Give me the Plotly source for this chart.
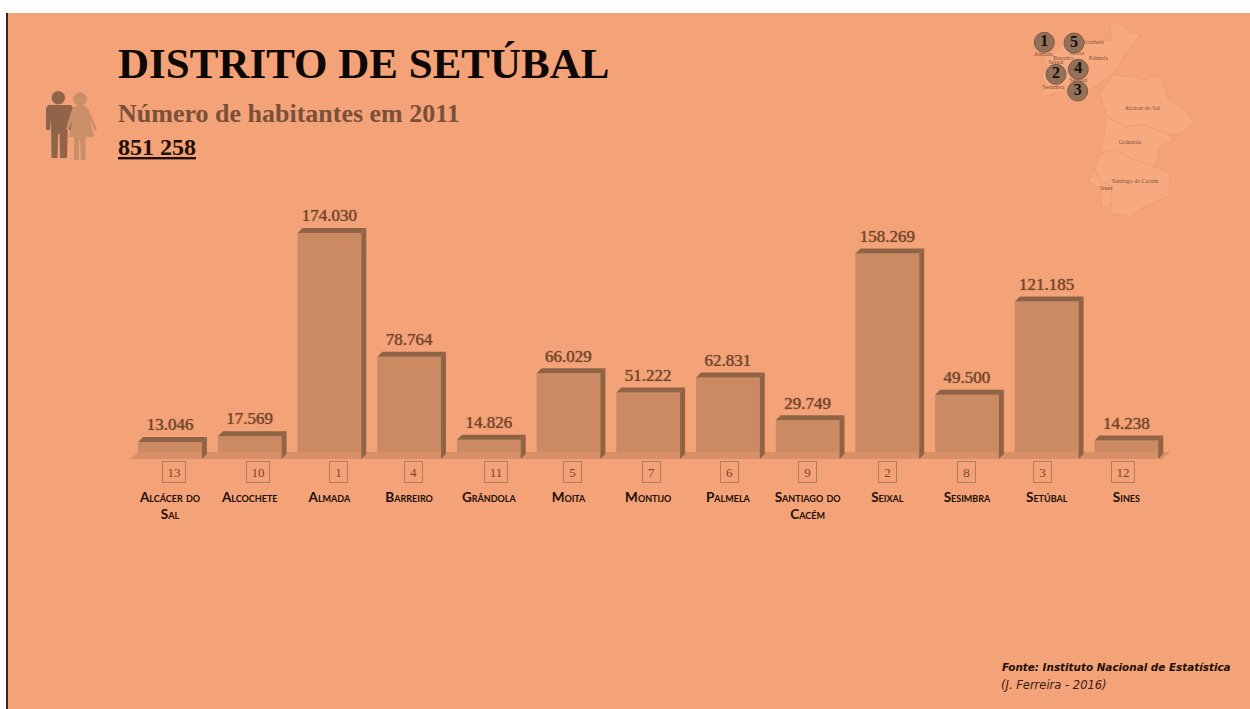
import plotly.graph_objects as go

# Resident population per municipality, census 2011
municipios = ["Alcácer do<br>Sal", "Alcochete", "Almada", "Barreiro", "Grândola", "Moita", "Montijo",
              "Palmela", "Santiago do<br>Cacém", "Seixal", "Sesimbra", "Setúbal", "Sines"]
habitantes = [13046, 17569, 174030, 78764, 14826, 66029, 51222, 62831, 29749, 158269, 49500, 121185, 14238]
posicao = [13, 10, 1, 4, 11, 5, 7, 6, 9, 2, 8, 3, 12]
# The rank boxes drift slightly off the bar centres
posicao_desvio = [4, 8, 9, 4, 7, 3.5, 3, 2, -0.5, 0, 0, -4, -3]

FUNDO = "#F4A277"
FRENTE = "#CC8A63"
SOMBRA = "#8F6446"
PISO = "#D98F68"
TEXTO = "#74472E"
SERIF = "Liberation Serif"

BAR_W = 0.8
DX = 0.0627   # depth of the extruded bars along x
DY = 3850     # depth of the extruded bars along y
idx = list(range(len(habitantes)))

# Map of the district: outlines on a local grid, placed in the top-right corner
mapa_norte = [(110, 95), (125, 130), (140, 170), (125, 195), (135, 230), (120, 262), (170, 250), (200, 240),
              (260, 245), (300, 220), (330, 195), (355, 175), (375, 130), (420, 75), (385, 65), (355, 35),
              (330, 40), (335, 90), (280, 95), (245, 90), (190, 105), (160, 125)]
mapa_alcacer = [(300, 250), (340, 195), (400, 200), (430, 210), (480, 195), (505, 270), (560, 300), (580, 340),
                (540, 375), (500, 370), (430, 345), (380, 350), (320, 320)]
mapa_grandola = [(320, 320), (380, 350), (430, 345), (500, 370), (520, 390), (480, 410), (465, 470), (400, 450),
                 (350, 420), (300, 430), (310, 380)]
mapa_santiago = [(300, 430), (350, 420), (400, 450), (465, 470), (510, 490), (505, 560), (430, 590), (390, 620),
                 (335, 610), (330, 560), (335, 530), (300, 510), (285, 480)]
mapa_sines = [(285, 480), (300, 510), (335, 530), (330, 590), (305, 590), (300, 540), (265, 510)]
mapa_partes = [mapa_norte, mapa_alcacer, mapa_grandola, mapa_santiago, mapa_sines]

mapa_nomes = ["Almada", "Seixal", "Barreiro", "Moita", "Alcochete", "Palmela", "Sesimbra", "Setúbal",
              "Alcácer do Sal", "Grândola", "Santiago do Cacém", "Sines"]
mapa_nomes_x = [130, 168, 190, 230, 275, 295, 160, 235, 427, 390, 405, 318]
mapa_nomes_y = [132, 158, 144, 130, 98, 146, 232, 210, 294, 397, 515, 536]

top5_rotulos = [1, 5, 2, 4, 3]
top5_x = [133, 222, 168, 235, 233]
top5_y = [97, 99, 193, 178, 243]


def mapa_x(a):
    return 1000 + a / 3


def mapa_y(b):
    return 10 + b / 3


fig = go.Figure()

# Floor under the bars
fig.add_trace(go.Scatter(
    x=[-0.5, 12.45, 12.45 + 0.1, -0.5 + 0.1, -0.5], y=[0, 0, 5400, 5400, 0],
    mode="lines", fill="toself", fillcolor=PISO, line=dict(width=0), hoverinfo="skip", showlegend=False))

# Front faces
fig.add_trace(go.Bar(x=idx, y=habitantes, width=BAR_W, marker=dict(color=FRENTE, line=dict(width=0)),
                     hoverinfo="skip", showlegend=False))

# Top and side faces, derived from each bar's value
top_x, top_y, side_x, side_y = [], [], [], []
for i, v in zip(idx, habitantes):
    l, r = i - BAR_W / 2, i + BAR_W / 2
    top_x += [l, r, r + DX, l + DX, l, None]
    top_y += [v, v, v + DY, v + DY, v, None]
    side_x += [r, r + DX, r + DX, r, r, None]
    side_y += [0, DY, v + DY, v, 0, None]
for fx, fy in ((top_x, top_y), (side_x, side_y)):
    fig.add_trace(go.Scatter(x=fx, y=fy, mode="lines", fill="toself", fillcolor=SOMBRA, line=dict(width=0),
                             hoverinfo="skip", showlegend=False))

# Value labels above the bars
fig.add_trace(go.Scatter(
    x=idx, y=[v + DY + 1900 for v in habitantes], mode="text",
    text=[f"{v:,}".replace(",", ".") for v in habitantes], textposition="top center",
    textfont=dict(family=SERIF, size=17, color=TEXTO, shadow="0 0 1px #74472E"),
    hoverinfo="skip", showlegend=False, cliponaxis=False))

# Small ticks under the rank boxes
fig.add_trace(go.Scatter(
    x=[i * 0.985 - 0.376 for i in idx[:-1]], y=[-19250] * (len(idx) - 1), mode="markers",
    marker=dict(symbol="line-ns", size=6, line=dict(width=1, color="#C98A64")),
    hoverinfo="skip", showlegend=False, cliponaxis=False))

# District map
for parte in mapa_partes:
    xs = [mapa_x(p[0]) for p in parte] + [mapa_x(parte[0][0])]
    ys = [mapa_y(p[1]) for p in parte] + [mapa_y(parte[0][1])]
    fig.add_trace(go.Scatter(x=xs, y=ys, xaxis="x2", yaxis="y2", mode="lines", fill="toself", fillcolor="#F7AA7F",
                             line=dict(width=1, color="#EF9E74"), hoverinfo="skip", showlegend=False))
fig.add_trace(go.Scatter(
    x=[mapa_x(a) for a in mapa_nomes_x], y=[mapa_y(b) for b in mapa_nomes_y], xaxis="x2", yaxis="y2",
    mode="text", text=mapa_nomes, textfont=dict(family=SERIF, size=6, color="#7F4F37"),
    hoverinfo="skip", showlegend=False))
fig.add_trace(go.Scatter(
    x=[mapa_x(a) for a in top5_x], y=[mapa_y(b) for b in top5_y], xaxis="x2", yaxis="y2",
    mode="markers+text", text=[str(n) for n in top5_rotulos], textposition="middle center",
    marker=dict(size=20, color="#93705A", line=dict(width=1, color="#7D5A45")),
    textfont=dict(family=SERIF, size=16, color="#17100C", weight="bold"),
    hoverinfo="skip", showlegend=False))

# Man and woman pictogram
fig.add_trace(go.Scatter(
    x=[46, 48, 71, 73, 73, 69, 68, 67, 60, 59.5, 58, 57.5, 51.5, 51, 50, 46, 46],
    y=[108, 105, 105, 108, 130, 130, 118, 158, 158, 134, 134, 158, 158, 118, 130, 130, 108],
    xaxis="x2", yaxis="y2", mode="lines", fill="toself", fillcolor="#8F6448", line=dict(width=0),
    hoverinfo="skip", showlegend=False))
fig.add_trace(go.Scatter(
    x=[75, 85, 88, 97, 95, 90, 94, 85.5, 85.5, 81, 80, 79, 79, 74, 74, 69, 72, 68, 66, 72, 75],
    y=[106, 106, 109, 129, 131, 119, 137, 137, 160, 160, 140, 140, 160, 160, 137, 137, 122, 131, 129, 109, 106],
    xaxis="x2", yaxis="y2", mode="lines", fill="toself", fillcolor="#C98F69", line=dict(width=0),
    hoverinfo="skip", showlegend=False))
fig.add_trace(go.Scatter(
    x=[58.3, 80], y=[97.7, 99.3], xaxis="x2", yaxis="y2", mode="markers",
    marker=dict(size=13.5, color=["#8F6448", "#C98F69"], line=dict(width=0)),
    hoverinfo="skip", showlegend=False))

# Title block and source note
annotations = [
    dict(text="<b>DISTRITO DE SETÚBAL</b>", x=116, y=63,
         font=dict(family=SERIF, size=43, color="#0E0805")),
    dict(text="<b>Número de habitantes em 2011</b>", x=116, y=113,
         font=dict(family=SERIF, size=26, color="#7A5038")),
    dict(text="<b><u>851 258</u></b>", x=116, y=147,
         font=dict(family=SERIF, size=24, color="#1E0F08")),
    dict(text="<b><i>Fonte: Instituto Nacional de Estatística</i></b>", x=1000, y=667,
         font=dict(family="DejaVu Sans", size=10.4, color="#1E0F08")),
    dict(text="<i>(J. Ferreira - 2016)</i>", x=999, y=685,
         font=dict(family="DejaVu Sans", size=11.5, color="#3A2014")),
]
for a in annotations:
    a.update(xref="x2", yref="y2", xanchor="left", yanchor="middle", showarrow=False)

# Rank boxes hanging below the baseline
for i, p, d in zip(idx, posicao, posicao_desvio):
    annotations.append(dict(
        text=str(p), x=i, y=0, xref="x", yref="y", xshift=d, yshift=-13, xanchor="center", yanchor="middle",
        width=15 if p < 10 else 20, height=18, align="center", valign="middle",
        showarrow=False, bordercolor="#B37C5A", borderwidth=1, borderpad=1,
        font=dict(family=SERIF, size=13, color=TEXTO)))

fig.update_layout(
    width=1250, height=709, margin=dict(l=0, r=0, t=0, b=0),
    paper_bgcolor=FUNDO, plot_bgcolor="rgba(0,0,0,0)", showlegend=False, barmode="overlay",
    annotations=annotations,
    xaxis=dict(domain=[122.2 / 1250, 1174.2 / 1250], range=[-0.6, 12.6], tickmode="array", tickvals=idx,
               ticktext=municipios, tickangle=0, ticks="", showgrid=False, zeroline=False, showline=False,
               ticklabelstandoff=28, tickfont=dict(family="Lato", size=13.5, color="#1E0F08", weight="bold",
                                                   variant="small-caps"),
               fixedrange=True),
    yaxis=dict(domain=[1 - 459 / 709, 1 - 190 / 709], range=[0, 207130], visible=False, fixedrange=True),
    xaxis2=dict(domain=[0, 1], range=[0, 1250], anchor="y2", visible=False, fixedrange=True),
    yaxis2=dict(domain=[0, 1], range=[709, 0], anchor="x2", visible=False, fixedrange=True),
    # White frame and dark rule along the edges of the slide
    shapes=[
        dict(type="rect", xref="x2", yref="y2", x0=0, x1=1250, y0=0, y1=13, fillcolor="white", line=dict(width=0)),
        dict(type="rect", xref="x2", yref="y2", x0=0, x1=6, y0=0, y1=709, fillcolor="white", line=dict(width=0)),
        dict(type="rect", xref="x2", yref="y2", x0=6, x1=8, y0=13, y1=709, fillcolor="#3A2416", line=dict(width=0)),
    ],
)

fig.write_html("out.html", config=dict(displayModeBar=False))
